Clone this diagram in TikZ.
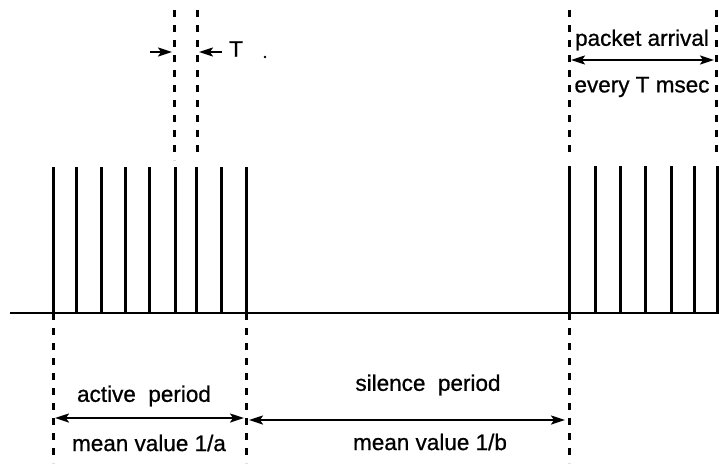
\documentclass[tikz,border=0pt]{standalone}
\usepackage{fontspec}
\setmainfont{Liberation Sans}[FakeBold=0.8]
\usetikzlibrary{arrows.meta}
\begin{document}
\begin{tikzpicture}[x=1pt,y=-1pt,
  spike/.style={line width=3pt},
  axis/.style={line width=2.4pt},
  marker/.style={line width=3pt,dash pattern=on 7pt off 8pt},
  tip/.tip={Stealth[length=14pt,width=9pt,inset=3pt]},
  dim/.style={line width=2pt,tip-tip},
  onearrow/.style={line width=2pt,-tip},
  lbl/.style={font=\fontsize{22.5}{24}\selectfont,inner sep=0pt}]
\useasboundingbox (0,0) rectangle (719,463);

% time axis
\coordinate (axL) at (10,313);
\coordinate (axR) at (719,313);
\draw[axis] (axL) -- (axR);

% packets of the active period
\foreach \x [count=\i] in {53,76,101,125,149,175,196,221,246} {
  \coordinate (a\i) at (\x,313);
  \coordinate (at\i) at (\x,167);
  \draw[spike] (a\i) -- (at\i);
}
% packets of the next active period
\foreach \x [count=\i] in {569,595,620,645,671,694,717} {
  \coordinate (b\i) at (\x,313);
  \coordinate (bt\i) at (\x,166);
  \draw[spike] (b\i) -- (bt\i);
}

% period boundaries below the axis
\coordinate (s1) at (53,463);
\coordinate (s2) at (246,463);
\coordinate (s3) at (569,463);
\draw[marker] (a1) -- (s1);
\draw[marker] (a9) -- (s2);
\draw[marker] (b1) -- (s3);

% packet spacing markers above the axis
\coordinate (t1) at (174,10);
\coordinate (t1b) at (174,160);
\coordinate (t2) at (197,10);
\coordinate (t2b) at (197,158);
\draw[marker] (t1) -- (t1b);
\draw[marker] (t2) -- (t2b);
\coordinate (p1) at (569,10);
\coordinate (p1b) at (569,158);
\coordinate (p2) at (716,10);
\coordinate (p2b) at (716,158);
\draw[marker] (p1) -- (p1b);
\draw[marker] (p2) -- (p2b);

% interval T
\coordinate (tl) at (150,52);
\coordinate (tle) at (172,52);
\coordinate (tr) at (222,52);
\coordinate (tre) at (199,52);
\draw[onearrow] (tl) -- (tle);
\draw[onearrow] (tr) -- (tre);
\node[lbl,anchor=west] (tlab) at (229,49) {T};
\fill (265,57) circle (1.3pt);

% packet arrival
\coordinate (pa1) at (571,60);
\coordinate (pa2) at (714,60);
\draw[dim] (pa1) -- (pa2);
\node[lbl] (arr) at (642,40) {packet arrival};
\node[lbl] (every) at (642,87) {every T msec};

% active period
\coordinate (ap1) at (55,418);
\coordinate (ap2) at (244,418);
\draw[dim] (ap1) -- (ap2);
\node[lbl] (act) at (144,396) {active\ \ period};
\node[lbl] (mva) at (149,443) {mean value 1/a};

% silence period
\coordinate (sp1) at (249,420);
\coordinate (sp2) at (565,420);
\draw[dim] (sp1) -- (sp2);
\node[lbl] (sil) at (428,385) {silence\ \ period};
\node[lbl] (mvb) at (430,442) {mean value 1/b};
\end{tikzpicture}
\end{document}
